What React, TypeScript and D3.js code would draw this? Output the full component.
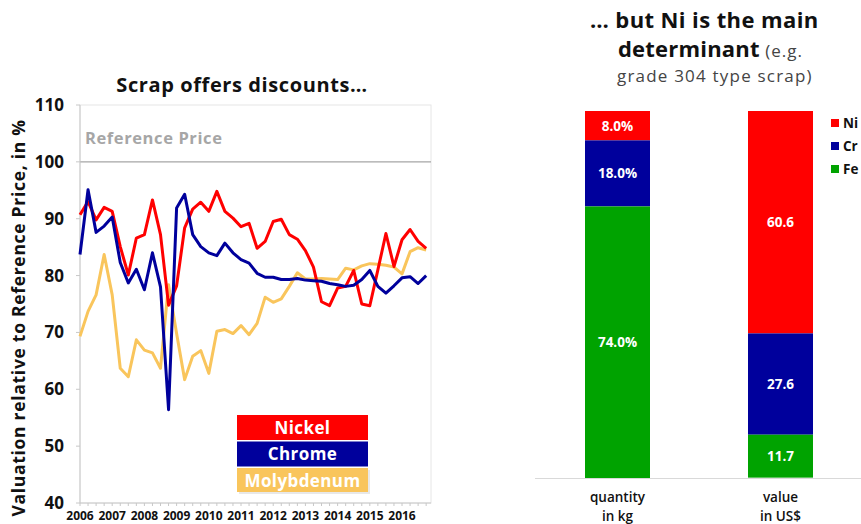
import React from "react";
import * as d3 from "d3";

const years = [2006, 2007, 2008, 2009, 2010, 2011, 2012, 2013, 2014, 2015, 2016];
const yTicks = [40, 50, 60, 70, 80, 90, 100, 110];

// quarterly values 2006 Q1 .. 2016 Q4
const nickel = [90.7, 93.0, 89.8, 92.0, 91.3, 85.1, 80.1, 86.6, 87.2, 93.3, 87.2, 74.8,
  78.2, 88.4, 91.7, 92.9, 91.3, 94.8, 91.3, 90.1, 88.6, 89.2, 84.8, 86.0,
  89.5, 89.9, 87.2, 86.4, 84.4, 81.5, 75.4, 74.7, 77.8, 78.1, 80.9, 75.0,
  74.7, 81.0, 87.4, 81.6, 86.3, 88.1, 86.0, 84.8];
const chrome = [83.7, 95.1, 87.6, 88.7, 90.3, 82.3, 78.7, 81.1, 77.5, 84.0, 78.0, 56.4,
  91.9, 94.3, 87.2, 85.1, 84.0, 83.5, 85.7, 84.0, 82.8, 82.2, 80.4, 79.7,
  79.7, 79.3, 79.3, 79.5, 79.2, 79.1, 79.0, 78.6, 78.4, 78.1, 78.3, 79.3,
  80.9, 78.1, 76.9, 78.2, 79.6, 79.8, 78.6, 80.0];
const molybdenum = [69.3, 73.7, 76.6, 83.7, 76.6, 63.7, 62.2, 68.7, 66.9, 66.4, 63.7, 78.4,
  69.8, 61.7, 65.8, 66.8, 62.8, 70.2, 70.5, 69.8, 71.2, 69.6, 71.6, 76.2,
  75.3, 75.9, 78.1, 80.5, 79.4, 79.4, 79.5, 79.4, 79.3, 81.3, 81.0, 81.7,
  82.1, 82.0, 81.8, 81.5, 80.3, 84.2, 84.9, 84.5];

const lineSeries = ["Nickel", "Chrome", "Molybdenum"];
const lineColors = ["#ff0000", "#00009c", "#f9c55c"];
const lineData = [nickel, chrome, molybdenum];

const barCategories = [["quantity", "in kg"], ["value", "in US$"]];
const barSeries = ["Ni", "Cr", "Fe"];
const barColors = ["#ff0000", "#00009c", "#00a300"];
const quantityShare = [8.0, 18.0, 74.0];
const valueShare = [60.6, 27.6, 11.7];
const barLabels = [["8.0%", "18.0%", "74.0%"], ["60.6", "27.6", "11.7"]];

const FONT = "'Open Sans', 'Noto Sans', sans-serif";

export default function App() {
  const x = d3.scaleLinear().domain([2006, 2016.9]).range([80, 431]);
  const y = d3.scaleLinear().domain([40, 110]).range([503, 105]);
  const line = d3
    .line<number>()
    .x((_, i) => x(2006 + i / 4))
    .y((d) => y(d));
  const quarterTicks = d3.range(0, 44).map((i) => 2006 + i / 4);

  const barX = d3.scaleOrdinal<string, number>().domain(["0", "1"]).range([585, 748]);
  const barW = 65;
  const by = d3.scaleLinear().domain([0, 100]).range([478, 111]);
  const barValues = [quantityShare, valueShare];

  return (
    <svg width={861} height={524} style={{ position: "absolute", left: 0, top: 0, background: "#fff" }} fontFamily={FONT}>
      {/* ===== Left chart ===== */}
      <text x={242} y={92} textAnchor="middle" fontSize={20} fontWeight={700} letterSpacing={0.6} fill="#111">
        Scrap offers discounts…
      </text>
      <rect x={x(2006)} y={y(110)} width={x(2016.9) - x(2006)} height={y(40) - y(110)} fill="none" stroke="#e6e6e6" strokeWidth={1} />
      <line x1={x(2006)} x2={x(2016.9)} y1={y(100)} y2={y(100)} stroke="#a6a6a6" strokeWidth={1.2} />
      <text x={85} y={144} fontSize={16.5} fontWeight={700} letterSpacing={0.6} fill="#a6a6a6">Reference Price</text>
      <line x1={x(2006)} x2={x(2006)} y1={y(110)} y2={y(40)} stroke="#c8c8c8" />
      <line x1={x(2006)} x2={x(2016.9)} y1={y(40)} y2={y(40)} stroke="#c8c8c8" />
      {yTicks.map((t) => (
        <g key={t}>
          <line x1={x(2006) - 4} x2={x(2006)} y1={y(t)} y2={y(t)} stroke="#c8c8c8" />
          <text x={64} y={y(t) + 6} textAnchor="end" fontSize={17} fontWeight={700} fill="#111">{t}</text>
        </g>
      ))}
      {quarterTicks.map((t) => (
        <line key={t} x1={x(t)} x2={x(t)} y1={y(40)} y2={y(40) + 3} stroke="#c8c8c8" />
      ))}
      {years.map((yr) => (
        <text key={yr} x={x(yr)} y={520} textAnchor="middle" fontSize={12} fontWeight={700} fill="#111">{yr}</text>
      ))}
      <text transform={`translate(25,${318}) rotate(-90)`} textAnchor="middle" fontSize={17.5} fontWeight={700} letterSpacing={0.7} fill="#111">
        Valuation relative to Reference Price, in %
      </text>
      {[2, 0, 1].map((k) => (
        <path key={k} d={line(lineData[k]) || ""} fill="none" stroke={lineColors[k]} strokeWidth={3} strokeLinejoin="round" />
      ))}
      {lineSeries.map((s, i) => (
        <g key={s}>
          {i === 2 && <rect x={239} y={470} width={131} height={24} fill="#e8e8e8" />}
          <rect x={237} y={415 + i * 26.5} width={131} height={i === 2 ? 24 : 25} fill={lineColors[i]} />
          <text x={302.5} y={415 + i * 26.5 + 18.5} textAnchor="middle" fontSize={17} fontWeight={700} letterSpacing={0.4} fill="#fff">{s}</text>
        </g>
      ))}

      {/* ===== Right chart ===== */}
      <text x={590} y={28} fontSize={22} fontWeight={700} letterSpacing={0.4} fill="#111">… but Ni is the main</text>
      <text x={618} y={57} fill="#111">
        <tspan fontSize={22} fontWeight={700} letterSpacing={0.2}>determinant</tspan>
        <tspan fontSize={17} fill="#444" letterSpacing={1}> (e.g.</tspan>
      </text>
      <text x={617} y={82} fontSize={17} fill="#444" letterSpacing={1.2}>grade 304 type scrap)</text>

      <line x1={535} x2={861} y1={478.5} y2={478.5} stroke="#d9d9d9" />
      {barValues.map((vals, ci) => {
        let acc = 0;
        const x0 = barX(String(ci));
        const segs = vals.map((v, si) => {
          const top = 100 - acc;
          acc += v;
          return { si, v, top, bottom: Math.max(100 - acc, 0) };
        });
        return (
          <g key={ci}>
            {segs.map((s) => (
              <g key={s.si}>
                <rect x={x0} y={by(s.top)} width={barW} height={by(s.bottom) - by(s.top)} fill={barColors[s.si]} />
                <text x={x0 + barW / 2} y={(by(s.top) + by(s.bottom)) / 2 + 5} textAnchor="middle" fontSize={13.5} fontWeight={700} fill="#fff">
                  {barLabels[ci][s.si]}
                </text>
              </g>
            ))}
            <text x={x0 + barW / 2} y={502} textAnchor="middle" fontSize={13.5} fontWeight={600} fill="#111">{barCategories[ci][0]}</text>
            <text x={x0 + barW / 2} y={521} textAnchor="middle" fontSize={13.5} fontWeight={600} fill="#111">{barCategories[ci][1]}</text>
          </g>
        );
      })}
      {barSeries.map((s, i) => (
        <g key={s}>
          <rect x={831} y={119 + i * 23} width={8} height={8} fill={barColors[i]} />
          <text x={843} y={128 + i * 23} fontSize={13.5} fontWeight={700} fill="#111">{s}</text>
        </g>
      ))}
    </svg>
  );
}
